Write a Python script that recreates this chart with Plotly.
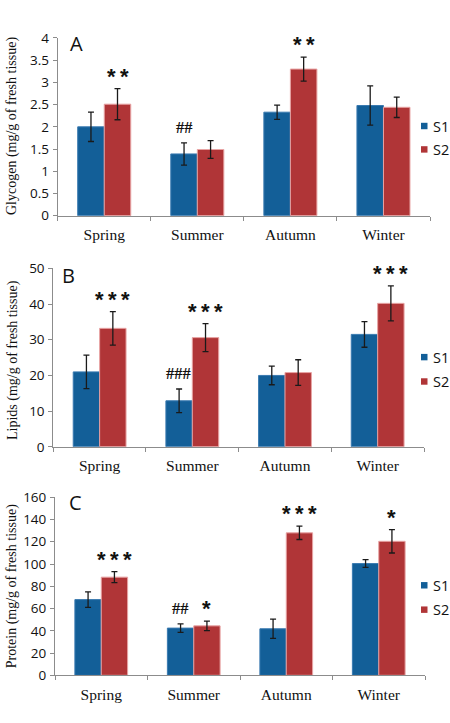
import plotly.graph_objects as go

W, H = 450, 723

seasons = ["Spring", "Summer", "Autumn", "Winter"]

# Panel A: Glycogen
glyc_s1 = [2.0, 1.39, 2.33, 2.48]
glyc_s1_err = [0.33, 0.25, 0.16, 0.44]
glyc_s2 = [2.51, 1.49, 3.30, 2.44]
glyc_s2_err = [0.35, 0.20, 0.27, 0.23]
glyc_s1_sig = ["", "##", "", ""]
glyc_s2_sig = ["**", "", "**", ""]

# Panel B: Lipids
lip_s1 = [21.0, 12.9, 20.0, 31.5]
lip_s1_err = [4.7, 3.3, 2.6, 3.6]
lip_s2 = [33.2, 30.6, 20.8, 40.2]
lip_s2_err = [4.7, 3.9, 3.6, 4.9]
lip_s1_sig = ["", "###", "", ""]
lip_s2_sig = ["***", "***", "", "***"]

# Panel C: Protein
prot_s1 = [68.0, 42.4, 41.8, 100.4]
prot_s1_err = [7.0, 3.8, 8.6, 3.5]
prot_s2 = [88.2, 44.4, 128.0, 120.4]
prot_s2_err = [4.9, 4.3, 6.0, 10.5]
prot_s1_sig = ["", "##", "", ""]
prot_s2_sig = ["***", "*", "***", "*"]

series_names = ["S1", "S2"]
BLUE = "#135f98"
RED = "#b03537"

panels = [
    dict(s1=glyc_s1, e1=glyc_s1_err, s2=glyc_s2, e2=glyc_s2_err, g1=glyc_s1_sig, g2=glyc_s2_sig,
         rng=[0, 4], dtick=0.5, title="Glycogen (mg/g of fresh tissue)", letter="A",
         px_top=29.7, px_bot=212, px_l=57.7, px_r=430, letter_xy=(76, 35),
         title_xy=(12, 120), leg_y=(120, 144)),
    dict(s1=lip_s1, e1=lip_s1_err, s2=lip_s2, e2=lip_s2_err, g1=lip_s1_sig, g2=lip_s2_sig,
         rng=[0, 50], dtick=10, title="Lipids (mg/g of fresh tissue)", letter="B",
         px_top=266, px_bot=449, px_l=53.3, px_r=424, letter_xy=(68, 273),
         title_xy=(13, 360), leg_y=(357, 382)),
    dict(s1=prot_s1, e1=prot_s1_err, s2=prot_s2, e2=prot_s2_err, g1=prot_s1_sig, g2=prot_s2_sig,
         rng=[0, 160], dtick=20, title="Protein (mg/g of fresh tissue)", letter="C",
         px_top=500.7, px_bot=683.3, px_l=55, px_r=425, letter_xy=(75, 506),
         title_xy=(12, 592), leg_y=(591, 616)),
]

fig = go.Figure()
annotations = []
shapes = []
AXIS_COL = "#8c8c8c"
BW = (1 - 0.43) / 2  # bar width in category units

for k, p in enumerate(panels):
    sfx = "" if k == 0 else str(k + 1)
    xa, ya = "x" + sfx, "y" + sfx
    for name, vals, errs, col, lcol in [("S1", p["s1"], p["e1"], BLUE, "#3a7ab0"),
                                         ("S2", p["s2"], p["e2"], RED, "#e8a4a4")]:
        fig.add_trace(go.Bar(
            x=seasons, y=vals, name=name, xaxis=xa, yaxis=ya, showlegend=False,
            marker=dict(color=col, line=dict(color=lcol, width=1)),
            error_y=dict(type="data", array=errs, visible=True, color="#1a1a1a",
                         thickness=1.3, width=3),
        ))
    fig.layout["xaxis" + sfx] = dict(
        domain=[p["px_l"] / W, p["px_r"] / W], anchor=ya, type="category",
        showline=True, linecolor=AXIS_COL, linewidth=1, ticks="outside", tickson="boundaries",
        ticklen=4, tickcolor=AXIS_COL, showgrid=False, zeroline=False,
        tickfont=dict(family="Liberation Serif", size=15.5, color="#111"),
        ticklabelstandoff=5, fixedrange=True,
    )
    fig.layout["yaxis" + sfx] = dict(
        domain=[1 - p["px_bot"] / H, 1 - p["px_top"] / H], anchor=xa,
        range=p["rng"], dtick=p["dtick"], showline=True, linecolor=AXIS_COL, linewidth=1,
        ticks="outside", ticklen=4, tickcolor=AXIS_COL, showgrid=False, zeroline=False,
        tickfont=dict(family="Open Sans", size=13.5, color="#111"),
        ticklabelstandoff=1, fixedrange=True,
    )
    # significance marks
    for i in range(4):
        for off, sig, vals, errs in [(-BW / 2, p["g1"][i], p["s1"], p["e1"]),
                                     (BW / 2, p["g2"][i], p["s2"], p["e2"])]:
            if not sig:
                continue
            if "*" in sig:
                txt = "<b>" + "\u2009".join(sig) + "</b>"
                font = dict(family="Liberation Sans", size=22, color="#111")
                ysh = -2
            else:
                txt = "<b>" + sig + "</b>"
                font = dict(family="Liberation Serif", size=16.5, color="#111")
                ysh = 4
            annotations.append(dict(
                x=i + off, y=vals[i] + errs[i], xref=xa, yref=ya, text=txt, showarrow=False,
                yanchor="bottom", xanchor="center", yshift=ysh, font=font,
            ))
    # panel letter
    annotations.append(dict(
        x=p["letter_xy"][0] / W, y=1 - p["letter_xy"][1] / H, xref="paper", yref="paper",
        text=p["letter"], showarrow=False, xanchor="center", yanchor="middle",
        font=dict(family="Open Sans", size=20, color="#111"),
    ))
    # y title
    annotations.append(dict(
        x=p["title_xy"][0] / W, y=1 - p["title_xy"][1] / H, xref="paper", yref="paper",
        text=p["title"], showarrow=False, textangle=-90, xanchor="center", yanchor="middle",
        font=dict(family="Liberation Serif", size=14, color="#111"),
    ))
    # legend (squares + labels)
    for name, col, ly in [("S1", BLUE, p["leg_y"][0]), ("S2", RED, p["leg_y"][1])]:
        shapes.append(dict(
            type="rect", xref="paper", yref="paper",
            x0=421 / W, x1=427.5 / W, y0=1 - (ly + 3.3) / H, y1=1 - (ly - 3.3) / H,
            fillcolor=col, line=dict(width=0),
        ))
        annotations.append(dict(
            x=430.5 / W, y=1 - ly / H, xref="paper", yref="paper", text=name, showarrow=False,
            xanchor="left", yanchor="middle",
            font=dict(family="Open Sans", size=14.5, color="#111"),
        ))

fig.update_layout(
    width=W, height=H, margin=dict(l=0, r=0, t=0, b=0),
    paper_bgcolor="white", plot_bgcolor="white",
    barmode="group", bargap=0.43, bargroupgap=0,
    annotations=annotations, shapes=shapes, showlegend=False,
)

fig.write_html("out.html", config={"displayModeBar": False})
